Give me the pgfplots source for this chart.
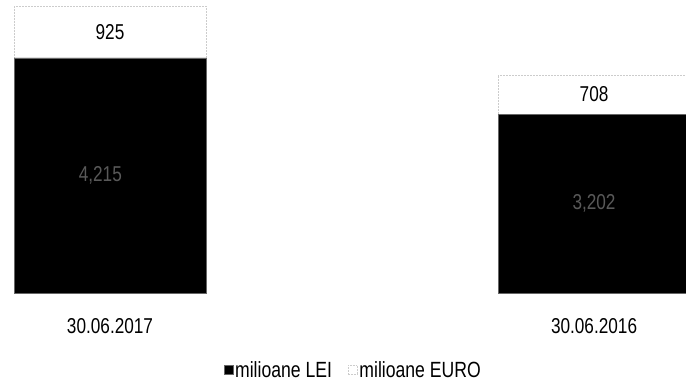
\documentclass[border=0pt]{standalone}
\usepackage{pgfplots}
\pgfplotsset{compat=1.18}
\usepackage{fontspec}
\setmainfont{Liberation Sans}[FakeStretch=0.8]
\begin{document}
\begin{tikzpicture}[x=1pt,y=1pt]
\useasboundingbox (0,0) rectangle (686,384);
\begin{axis}[
  at={(0pt,91pt)}, anchor=south west,
  scale only axis, width=686pt, height=293pt,
  ybar stacked, bar width=192pt,
  xmin=-0.2273, xmax=1.19, ymin=0, ymax=5250,
  xtick={0,1}, xticklabels={30.06.2017,30.06.2016},
  xticklabel style={anchor=center, yshift=-33pt, font=\fontsize{21.5}{23}\selectfont},
  ytick=\empty, major tick length=0pt,
  axis line style={draw=none},
  legend columns=2,
  legend style={draw=none, fill=none, at={(0.515,-0.263)}, anchor=center,
    font=\fontsize{22}{23}\selectfont,
    /tikz/every even column/.append style={column sep=14pt}},
  legend image code/.code={\draw[#1] (0pt,-4.5pt) rectangle (9pt,4.5pt);},
  clip=true,
]
\addplot+[fill=black, draw=black!60, line width=0.3pt] coordinates {(0,4215) (1,3202)};
\addlegendentry{milioane LEI}
\addplot+[fill=white, draw=black!20, densely dotted, line width=0.5pt] coordinates {(0,925) (1,708)};
\addlegendentry{milioane EURO}
\coordinate (e1) at (axis cs:0,4677);
\coordinate (e2) at (axis cs:1,3556);
\coordinate (l1) at (axis cs:-0.02,2107);
\coordinate (l2) at (axis cs:1,1601);
\end{axis}
\node[font=\fontsize{21.5}{23}\selectfont] at (e1) {925};
\node[font=\fontsize{21.5}{23}\selectfont] at (e2) {708};
\node[font=\fontsize{21.5}{23}\selectfont, text=black!65] at (l1) {4,215};
\node[font=\fontsize{21.5}{23}\selectfont, text=black!65] at (l2) {3,202};
\end{tikzpicture}
\end{document}
